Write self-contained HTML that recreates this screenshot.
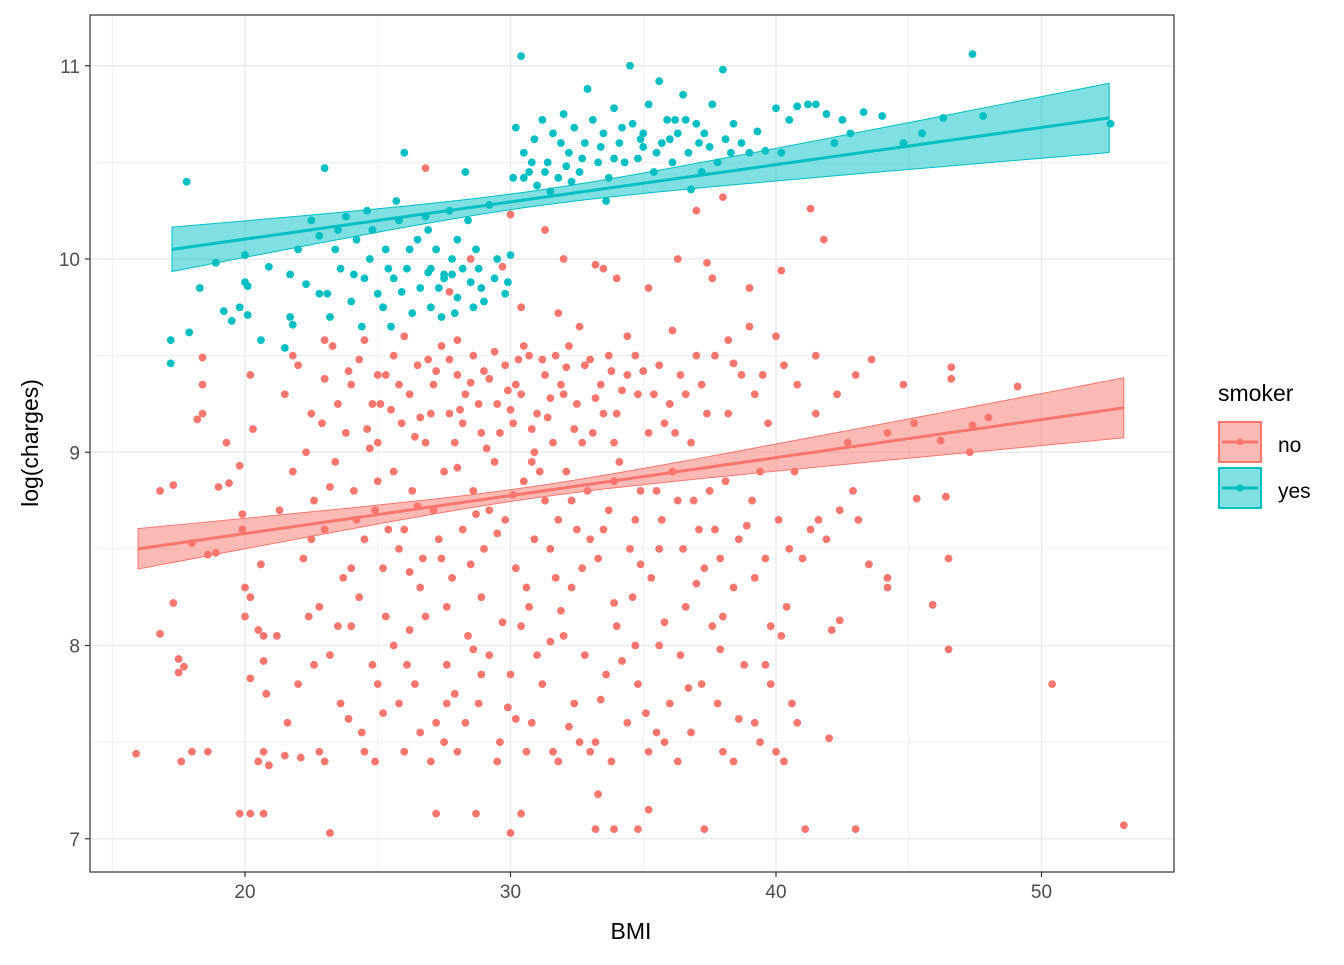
<!DOCTYPE html>
<html><head><meta charset="utf-8"><style>
html,body{margin:0;padding:0;background:#fff;}
svg text{font-family:"Liberation Sans",Arial,sans-serif;}
</style></head><body>
<svg id="chart" width="1344" height="960" xmlns="http://www.w3.org/2000/svg">
<rect x="0" y="0" width="1344" height="960" fill="#fff"/>
<g id="grid"></g>
<g id="ribbons"></g>
<g id="points"></g>
<g id="lines"></g>
<rect x="90" y="15" width="1084" height="857" fill="none" stroke="#333" stroke-width="1.2"/>
<g id="axes"></g>
<text x="631" y="939" font-size="23" text-anchor="middle" fill="#000">BMI</text>
<text transform="translate(38,443) rotate(-90)" font-size="23" text-anchor="middle" fill="#000">log(charges)</text>
<g>
<text x="1218" y="401" font-size="23" fill="#000">smoker</text>
<g>
<rect x="1219" y="422" width="42" height="40" fill="#F8766D" fill-opacity="0.5" stroke="#F8766D" stroke-width="2"/>
<line x1="1222" y1="442" x2="1258" y2="442" stroke="#F8766D" stroke-width="3"/>
<circle cx="1240" cy="442" r="3.5" fill="#F8766D"/>
<text x="1278" y="452" font-size="21" fill="#000">no</text></g>
<g>
<rect x="1219" y="468" width="42" height="40" fill="#00BFC4" fill-opacity="0.5" stroke="#00BFC4" stroke-width="2"/>
<line x1="1222" y1="488" x2="1258" y2="488" stroke="#00BFC4" stroke-width="3"/>
<circle cx="1240" cy="488" r="3.5" fill="#00BFC4"/>
<text x="1278" y="498" font-size="21" fill="#000">yes</text></g>
</g>
</svg>
<script>
const xTicks=[20,30,40,50];
const xMinor=[15,25,35,45];
const yTicks=[7,8,9,10,11];
const yMinor=[7.5,8.5,9.5,10.5];
const fitNo=[15.97,8.50,53.1,9.23];
const fitYes=[17.25,10.05,52.55,10.73];
const seNo=[30.7,0.03,0.0068];
const seYes=[30.7,0.04,0.008];
const pointsNo=[[15.9,7.44],[16.8,8.8],[16.8,8.06],[17.3,8.83],[17.3,8.22],[17.5,7.93],[17.5,7.86],[17.7,7.89],[17.6,7.4],[18.0,7.45],[18.6,7.45],[18.0,8.53],[18.2,9.17],[18.4,9.35],[18.4,9.49],[18.4,9.2],[18.6,8.47],[18.9,8.48],[19.0,8.82],[19.3,9.05],[19.4,8.84],[19.8,8.93],[19.9,8.6],[19.9,8.68],[19.8,7.13],[20.2,7.13],[20.7,7.13],[20.0,8.3],[20.0,8.15],[20.2,8.25],[20.2,9.4],[20.3,9.12],[20.5,8.08],[20.7,8.05],[20.5,7.4],[20.7,7.45],[20.8,7.75],[20.9,7.38],[20.7,7.92],[20.6,8.42],[20.2,7.83],[21.5,7.43],
[26.8,10.47],[30.0,10.23],[31.3,10.15],[32.0,10.0],[33.2,9.97],[33.5,9.95],[35.2,9.85],[36.3,10.0],[37.0,10.25],[37.4,9.98],[38.0,10.32],[39.0,9.85],[40.2,9.94],[41.3,10.26],[41.8,10.1],[37.6,9.9],[34.0,9.9],[30.4,9.75],[29.7,9.96],[31.8,9.72],[28.5,10.0],[27.7,9.83],
[21.5,9.3],[22,9.45],[22.5,9.2],[23,9.38],[23.3,9.55],[23.8,9.1],[24,9.35],[24.3,9.48],[24.8,9.25],[25,9.05],[25.3,9.4],[25.6,9.5],[25.9,9.15],[26.2,9.3],[26.5,9.45],[26.8,9.05],[27.1,9.35],[27.4,9.55],[27.7,9.2],[28,9.4],[28.3,9.3],[28.6,9.5],[28.9,9.1],[29.2,9.38],[29.5,9.25],[29.8,9.45],[30.1,9.15],[30.4,9.3],[30.7,9.5],[31,9.2],[31.3,9.4],[31.6,9.05],[31.9,9.35],[32.2,9.55],[32.5,9.25],[32.8,9.45],[33.1,9.1],[33.4,9.35],[33.7,9.5],[34,9.2],[34.4,9.4],[34.8,9.3],[35.2,9.1],[35.6,9.45],[36,9.25],[36.4,9.4],[36.8,9.05],[37.2,9.35],[37.7,9.5],[38.2,9.2],[38.7,9.4],[39.2,9.3],[39.7,9.15],[40.3,9.45],[40.8,9.35],[41.5,9.2],[42.3,9.3],[43,9.4],[43.6,9.48],[44.8,9.35],[46.6,9.44],[46.6,9.38],[49.1,9.34],[42.7,9.05],[44.2,9.1],[45.2,9.15],[47.4,9.14],[48,9.18],[46.2,9.06],[47.3,9.0],[40,9.6],[41.5,9.5],[39,9.65],[38.2,9.58],[36.1,9.63],[34.4,9.6],[32.6,9.65],[30.5,9.55],[28,9.58],[26,9.6],[24.5,9.58],[23,9.58],[21.8,9.5],
[22.3,9.0],[23.5,9.25],[24.6,9.12],[25.8,9.35],[27,9.2],[27.9,9.05],[28.8,9.25],[29.6,9.1],[30.2,9.35],[30.9,9.0],[31.5,9.28],[32.4,9.12],[33.2,9.28],[33.9,9.05],[34.7,9.5],[35.4,9.3],[36.2,9.1],[37,9.5],[29,9.42],[30,9.22],[31.2,9.48],[32,9.3],[26.9,9.48],[25,9.4],[28.2,9.15],[33,9.48],
[21.3,8.7],[21.8,8.9],[22.2,8.45],[22.6,8.75],[23,8.6],[23.4,8.95],[23.7,8.35],[24.1,8.8],[24.5,8.55],[24.9,8.7],[25.2,8.4],[25.6,8.9],[26,8.6],[26.3,8.8],[26.7,8.45],[27.1,8.7],[27.5,8.9],[27.8,8.35],[28.2,8.6],[28.6,8.8],[29,8.5],[29.4,8.95],[29.8,8.65],[30.2,8.4],[30.5,8.85],[30.9,8.55],[31.3,8.75],[31.7,8.35],[32.1,8.9],[32.5,8.6],[32.9,8.8],[33.3,8.45],[33.7,8.7],[34.1,8.95],[34.5,8.5],[34.9,8.8],[35.3,8.35],[35.7,8.65],[36.1,8.9],[36.5,8.5],[36.9,8.75],[37.3,8.4],[37.7,8.6],[38.1,8.85],[38.6,8.55],[39.1,8.75],[39.6,8.45],[40.1,8.65],[40.7,8.9],[41.3,8.6],[41.9,8.55],[42.4,8.7],[43.1,8.65],[43.5,8.42],[44.2,8.3],[44.2,8.35],[46.5,8.45],[46.4,8.77],[45.3,8.76],[42.9,8.8],[41.6,8.65],
[22.8,8.2],[24.3,8.25],[26.6,8.3],[28.9,8.25],[30.7,8.2],[32.3,8.3],[34.6,8.25],[36.6,8.2],[38.4,8.3],[40.4,8.2],[25.4,8.6],[27.3,8.55],[29.2,8.7],[31.1,8.9],[33.5,8.6],[35.5,8.8],[37.5,8.8],[39.4,8.9],[41,8.45],[31.8,8.65],
[21.2,8.05],[21.6,7.6],[22,7.8],[22.4,8.15],[22.8,7.45],[23.2,7.95],[23.6,7.7],[24,8.1],[24.4,7.55],[24.8,7.9],[25.2,7.65],[25.6,8.0],[26,7.45],[26.4,7.8],[26.8,8.15],[27.2,7.6],[27.6,7.9],[28,7.45],[28.4,8.05],[28.8,7.7],[29.2,7.95],[29.6,7.5],[30,7.85],[30.4,8.1],[30.8,7.6],[31.2,7.8],[31.6,7.45],[32,8.05],[32.4,7.7],[32.8,7.95],[33.2,7.5],[33.6,7.85],[34,8.1],[34.4,7.6],[34.8,7.8],[35.2,7.45],[35.6,8.0],[36,7.7],[36.4,7.95],[36.8,7.55],[37.2,7.8],[37.6,8.1],[38,7.45],[38.4,7.4],[38.8,7.9],[39.2,7.6],[39.6,7.9],[40,7.45],[40.3,7.4],[40.6,7.7],[40.8,7.6],[40.2,8.05],[42,7.52],[42.1,8.08],[42.4,8.13],[45.9,8.21],[46.5,7.98],[50.4,7.8],
[23,7.4],[24.9,7.4],[27,7.4],[29.5,7.4],[31.8,7.4],[33.8,7.4],[36.3,7.4],[22.1,7.42],[25.8,7.7],[27.9,7.75],[30.2,7.62],[32.6,7.5],[34.8,7.05],[33.9,7.05],[33.2,7.05],[30,7.03],[23.2,7.03],[27.2,7.13],[28.7,7.13],[30.4,7.13],[33.3,7.23],[35.2,7.15],[37.3,7.05],[41.1,7.05],[43,7.05],[53.1,7.07],[28.3,7.6],[26.1,7.9],[35.1,7.65],[37.8,7.7]];
const pointsNoDense=[[22.9,9.15],[23.9,9.42],[24.7,9.02],[25.5,9.22],[26.4,9.08],[27.2,9.42],[28.1,9.22],[28.5,9.36],[29.1,9.02],[29.9,9.32],[30.3,9.48],[30.8,9.12],[31.4,9.18],[32.1,9.44],[32.7,9.05],[33.5,9.2],[34.2,9.32],[35,9.42],[35.8,9.15],[36.6,9.3],[37.4,9.2],[38.4,9.46],[39.5,9.4],[25.1,9.25],[26.6,9.18],[27.7,9.48],[29.4,9.52],[31.7,9.5],[33.8,9.42],
[22.5,8.55],[23.2,8.82],[24.2,8.65],[25,8.85],[25.8,8.5],[26.5,8.72],[27.4,8.45],[28,8.92],[28.7,8.68],[29.5,8.58],[30.1,8.78],[30.8,8.95],[31.5,8.5],[32.3,8.75],[33,8.55],[33.9,8.85],[34.7,8.65],[35.6,8.5],[36.3,8.75],[37.1,8.6],[37.9,8.45],[38.9,8.62],[40.5,8.5],[24,8.4],[26.2,8.38],[28.5,8.42],[30.6,8.3],[32.7,8.4],[34.9,8.42],[37,8.32],[39.2,8.35],[23.5,8.1],[25.3,8.15],[27.6,8.2],[29.7,8.12],[31.9,8.18],[33.9,8.22],[35.8,8.12],[38,8.15],[39.8,8.1],
[22.6,7.9],[23.9,7.62],[25,7.8],[26.6,7.55],[27.6,7.7],[28.9,7.85],[29.9,7.68],[31,7.95],[32.2,7.58],[33.4,7.72],[34.2,7.92],[35.5,7.55],[36.7,7.78],[38.6,7.62],[39.8,7.8],[24.5,7.45],[27.5,7.5],[30.6,7.45],[33,7.45],[35.8,7.5],[39.4,7.5],[26.2,8.08],[28.6,7.98],[31.5,8.02],[34.7,8.0],[37.9,7.98]];
const pointsYes=[[17.2,9.58],[17.2,9.46],[17.8,10.4],[17.9,9.62],[18.3,9.85],[18.9,9.98],[19.2,9.73],[19.5,9.68],[19.8,9.75],[20,10.02],[20,9.88],[20.1,9.86],[20.1,9.71],[20.6,9.58],[20.9,9.96],[21.5,9.54],[21.7,9.92],[21.7,9.7],[21.8,9.66],[22,10.05],[22.3,9.87],[22.5,10.2],[22.8,10.12],[23,10.47],[23.1,9.82],[23.2,9.7],[23.4,10.05],[23.6,9.95],[23.8,10.22],[24,9.78],[24.2,10.1],[24.4,9.65],[24.5,9.9],[24.7,10.0],[24.8,10.15],[25,9.82],[25.2,9.75],[25.3,10.05],[25.5,9.65],[25.6,9.9],[25.8,10.2],[26,10.55],[26.1,9.95],[26.3,9.72],[26.5,10.1],[26.6,9.85],[26.8,10.22],[27,9.95],[27,9.75],[27.2,10.05],[27.4,9.7],[27.5,9.9],[27.7,10.25],[27.8,9.92],[28,9.8],[28,10.1],[28.2,9.95],[28.3,10.45],[28.4,10.2],[28.6,9.75],[28.8,9.95],[29,9.78],[29.2,10.28],[29.5,10.0],[29.8,9.82],[29.9,9.88],[30,10.02],[28.7,10.05],[27.9,9.72],[27.5,9.92],[26.9,9.93],[28.9,9.85],[22.8,9.82],[25.9,9.83],
[30.1,10.42],[30.2,10.68],[30.4,11.05],[30.5,10.55],[30.7,10.45],[30.9,10.62],[31,10.38],[31.2,10.72],[31.4,10.5],[31.6,10.65],[31.8,10.42],[32,10.75],[32.2,10.55],[32.4,10.68],[32.6,10.45],[32.8,10.6],[32.9,10.88],[33.1,10.72],[33.3,10.5],[33.5,10.65],[33.7,10.42],[33.9,10.78],[34.1,10.6],[34.3,10.5],[34.5,11.0],[34.6,10.7],[34.8,10.52],[35,10.65],[35.2,10.8],[35.4,10.45],[35.6,10.92],[35.7,10.6],[35.9,10.72],[36.1,10.5],[36.3,10.65],[36.5,10.85],[36.7,10.55],[36.8,10.36],[37,10.7],[37.2,10.45],[37.3,10.65],[37.6,10.8],[37.8,10.5],[38,10.98],[38.1,10.62],[38.4,10.7],[38.7,10.6],[39,10.55],[39.3,10.66],[39.6,10.56],[40,10.78],[40.2,10.55],[40.5,10.72],[40.8,10.79],[41.2,10.8],[41.5,10.8],[41.9,10.75],[42.2,10.6],[42.5,10.72],[42.8,10.65],[43.3,10.76],[44,10.74],[44.8,10.6],[45.5,10.65],[46.3,10.73],[47.4,11.06],[47.8,10.74],[52.6,10.7],[30.5,10.42],[31.5,10.35],[32.3,10.4],[33.6,10.3],[35,10.58],[36,10.62],[36.6,10.72],[37.5,10.58],
[23.5,10.15],[24.6,10.25],[25.4,9.95],[26.2,10.05],[27.3,9.85],[27.8,10.0],[28.5,9.88],[29.4,9.9],[24.1,9.92],[25.7,10.3],[26.9,10.15],[30.8,10.5],[31.9,10.6],[32.7,10.52],[33.4,10.58],[34.2,10.68],[34.9,10.62],[35.5,10.55],[36.2,10.72],[37.1,10.6],[38.3,10.55],[31.3,10.45],[32.1,10.48],[33.9,10.52]];

const NS='http://www.w3.org/2000/svg';
const L=90,R=1174,T=15,B=872;
function sx(v){return 245+(v-20)*26.55;}
function sy(v){return 259-(v-10)*193.25;}
function mk(tag,attrs,parent){const e=document.createElementNS(NS,tag);for(const k in attrs)e.setAttribute(k,attrs[k]);parent.appendChild(e);return e;}
const grid=document.getElementById('grid'),axes=document.getElementById('axes');
xMinor.forEach(v=>{const e=mk('line',{x1:sx(v),x2:sx(v),y1:T,y2:B,stroke:'#EBEBEB','stroke-width':0.8},grid);

});
yMinor.forEach(v=>{const e=mk('line',{x1:L,x2:R,y1:sy(v),y2:sy(v),stroke:'#EBEBEB','stroke-width':0.8},grid);

});
xTicks.forEach(v=>{const e=mk('line',{x1:sx(v),x2:sx(v),y1:T,y2:B,stroke:'#EBEBEB','stroke-width':1.5},grid);


const t=mk('line',{x1:sx(v),x2:sx(v),y1:B,y2:B+5,stroke:'#333','stroke-width':1.2},axes);


const l=mk('text',{x:sx(v),y:B+26,'font-size':19,'text-anchor':'middle',fill:'#4D4D4D'},axes);l.textContent=v;

});
yTicks.forEach(v=>{const e=mk('line',{x1:L,x2:R,y1:sy(v),y2:sy(v),stroke:'#EBEBEB','stroke-width':1.5},grid);


const t=mk('line',{x1:L-5,x2:L,y1:sy(v),y2:sy(v),stroke:'#333','stroke-width':1.2},axes);


const l=mk('text',{x:L-10,y:sy(v)+7,'font-size':19,'text-anchor':'end',fill:'#4D4D4D'},axes);l.textContent=v;

});
const pts=document.getElementById('points');
function drawPts(arr,col,name){arr.forEach(p=>{const c=mk('circle',{cx:sx(p[0]),cy:sy(p[1]),r:3.9,fill:col},pts);

});}
drawPts(pointsNo,'#F8766D','point-no');
drawPts(pointsNoDense,'#F8766D','point-no');
drawPts(pointsYes,'#00BFC4','point-yes');
const rib=document.getElementById('ribbons'),lines=document.getElementById('lines');
function drawFit(f,se,col,name){
 const slope=(f[3]-f[1])/(f[2]-f[0]);const up=[],dn=[];
 for(let i=0;i<=40;i++){const x=f[0]+(f[2]-f[0])*i/40;const y=f[1]+slope*(x-f[0]);
  const h=Math.sqrt(se[1]*se[1]+se[2]*se[2]*(x-se[0])*(x-se[0]));
  up.push(sx(x)+','+sy(y+h));dn.unshift(sx(x)+','+sy(y-h));}
 const p=mk('polygon',{points:up.concat(dn).join(' '),fill:col,'fill-opacity':0.5,stroke:col,'stroke-width':1},rib);
 
 
 const l=mk('line',{x1:sx(f[0]),y1:sy(f[1]),x2:sx(f[2]),y2:sy(f[3]),stroke:col,'stroke-width':3},lines);
 
 }
drawFit(fitNo,seNo,'#F8766D','no');
drawFit(fitYes,seYes,'#00BFC4','yes');
</script>
</body></html>
